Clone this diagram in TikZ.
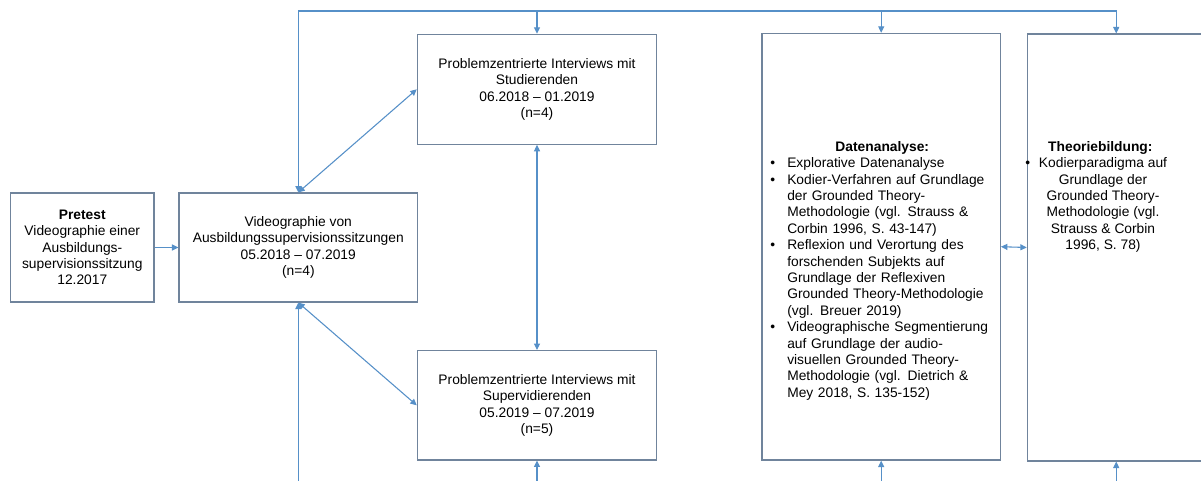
\documentclass[tikz,border=0pt]{standalone}
\usepackage{fontspec}
\setmainfont{Liberation Sans}
\usetikzlibrary{arrows.meta}
\definecolor{linec}{RGB}{86,144,200}
\definecolor{boxc}{RGB}{112,132,156}
\begin{document}
\begin{tikzpicture}[x=0.75pt,y=-0.75pt,
  txt/.style={font=\fontsize{10.35}{12.3}\selectfont},
  box/.style={draw=boxc,line width=0.9pt,rectangle,inner sep=0pt,align=center,txt},
  conn/.style={draw=linec,line width=0.8pt},
  tip/.style={-{Triangle[length=4.8pt,width=4.5pt]}},
  dtip/.style={{Triangle[length=4.8pt,width=4.5pt]}-{Triangle[length=4.8pt,width=4.5pt]}}]
\useasboundingbox (0,0) rectangle (1201,481);
\fill[white] (0,0) rectangle (1201,481);

\node[box,minimum width=107.5pt,minimum height=81.75pt] (pre) at (82.3,247.5)
  {\textbf{Pretest}\\Videographie einer\\Ausbildungs-\\supervisionssitzung\\12.2017};
\node[box,minimum width=179pt,minimum height=81.75pt] (vid) at (298.3,247.5)
  {Videographie von\\Ausbildungssupervisionssitzungen\\05.2018 – 07.2019\\(n=4)};
\node[box,minimum width=179.5pt,minimum height=82.5pt] (stud) at (537,89.3)
  {Problemzentrierte Interviews mit\\Studierenden\\06.2018 – 01.2019\\(n=4)};
\node[box,minimum width=179.5pt,minimum height=82pt] (sup) at (537,405.3)
  {Problemzentrierte Interviews mit\\Supervidierenden\\05.2019 – 07.2019\\(n=5)};
\node[box,minimum width=178.7pt,minimum height=320pt] (dat) at (881.2,246.7) {};
\node[box,minimum width=133.3pt,minimum height=320.25pt] (theo) at (1116.2,247.5) {};

\node[txt,anchor=north west,inner sep=0pt,text width=172pt,align=left] (dattxt) at (770,141)
  {\hspace*{0pt}\makebox[172pt][c]{\hspace{-4pt}\textbf{Datenanalyse:}}\\
   \makebox[12.75pt][l]{\textbullet}Explorative Datenanalyse\\
   \makebox[12.75pt][l]{\textbullet}Kodier-Verfahren auf Grundlage\\
   \hspace*{12.75pt}der Grounded Theory-\\
   \hspace*{12.75pt}Methodologie (vgl. Strauss \&\\
   \hspace*{12.75pt}Corbin 1996, S. 43-147)\\
   \makebox[12.75pt][l]{\textbullet}Reflexion und Verortung des\\
   \hspace*{12.75pt}forschenden Subjekts auf\\
   \hspace*{12.75pt}Grundlage der Reflexiven\\
   \hspace*{12.75pt}Grounded Theory-Methodologie\\
   \hspace*{12.75pt}(vgl. Breuer 2019)\\
   \makebox[12.75pt][l]{\textbullet}Videographische Segmentierung\\
   \hspace*{12.75pt}auf Grundlage der audio-\\
   \hspace*{12.75pt}visuellen Grounded Theory-\\
   \hspace*{12.75pt}Methodologie (vgl. Dietrich \&\\
   \hspace*{12.75pt}Mey 2018, S. 135-152)};

\node[txt,anchor=north,inner sep=0pt,align=center] (theotxt) at (1103,141)
  {\hspace*{-4pt}\textbf{Theoriebildung:}\\
   \llap{\textbullet\hspace{6.5pt}}Kodierparadigma auf\\
   Grundlage der\\
   Grounded Theory-\\
   Methodologie (vgl.\\
   Strauss \& Corbin\\
   1996, S. 78)};

\coordinate (tl) at (298.3,11);
\coordinate (tr) at (1116.2,11);
\coordinate (bl) at (298.3,490);

\draw[conn,tip] (tl) -- (tr) -- (theo.north);
\draw[conn,tip] (tl) -- (vid.north);
\draw[conn,tip] (stud.north |- tl) -- (stud.north);
\draw[conn,tip] (dat.north |- tl) -- (dat.north);

\draw[conn,tip] (bl) -- (vid.south);
\draw[conn,tip] (sup.south |- bl) -- (sup.south);
\draw[conn,tip] (dat.south |- bl) -- (dat.south);
\draw[conn,tip] (theo.south |- bl) -- (theo.south);

\draw[conn,tip] (pre.east) -- (vid.west);
\draw[conn,dtip] (vid.north) -- (stud.west);
\draw[conn,dtip] (vid.south) -- (sup.west);
\draw[conn,dtip] (stud.south) -- (sup.north);
\draw[conn,dtip] (dat.east) -- (theo.west);
\end{tikzpicture}
\end{document}
